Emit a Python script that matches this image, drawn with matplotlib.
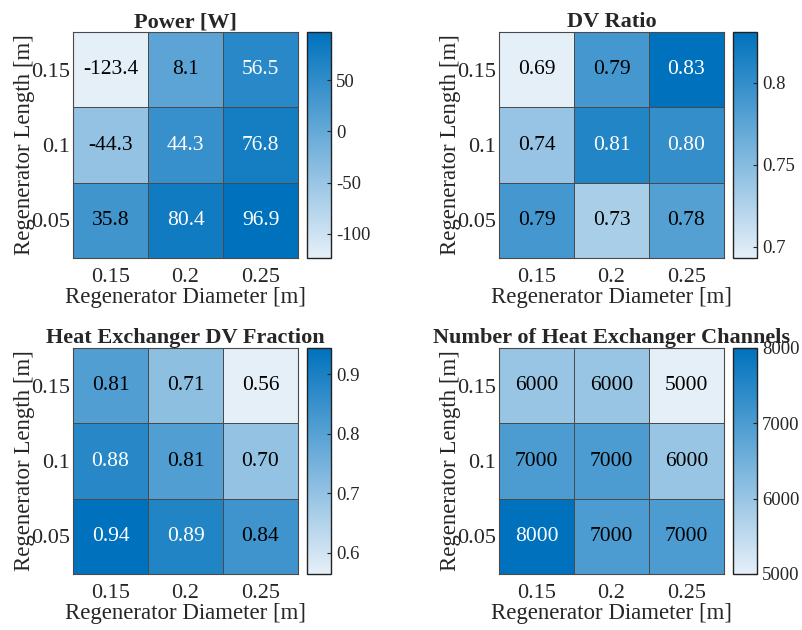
import matplotlib.pyplot as plt
from matplotlib.colors import LinearSegmentedColormap
import numpy as np

plt.rcParams['font.family'] = ['Liberation Serif', 'DejaVu Serif']

diam = ['0.15', '0.2', '0.25']
length = ['0.15', '0.1', '0.05']  # rows, top to bottom

power = [[-123.4, 8.1, 56.5],
         [-44.3, 44.3, 76.8],
         [35.8, 80.4, 96.9]]
dv_ratio = [[0.693, 0.79, 0.831],
            [0.74, 0.81, 0.80],
            [0.79, 0.73, 0.78]]
hx_frac = [[0.81, 0.71, 0.564],
           [0.88, 0.81, 0.70],
           [0.944, 0.89, 0.84]]
channels = [[6000, 6000, 5000],
            [7000, 7000, 6000],
            [8000, 7000, 7000]]

titles = ['Power [W]', 'DV Ratio', 'Heat Exchanger DV Fraction',
          'Number of Heat Exchanger Channels']
fmts = ['%.1f', '%.2f', '%.2f', '%d']
cb_ticks = [[-100, -50, 0, 50], [0.7, 0.75, 0.8], [0.6, 0.7, 0.8, 0.9],
            [5000, 6000, 7000, 8000]]
cb_labels = [['-100', '-50', '0', '50'], ['0.7', '0.75', '0.8'],
             ['0.6', '0.7', '0.8', '0.9'], ['5000', '6000', '7000', '8000']]

cmap = LinearSegmentedColormap.from_list('mblue', [(229/255, 239/255, 248/255),
                                                   (0, 114/255, 189/255)])
txt = '#262626'
edge = '#4a4a4a'

fig = plt.figure(figsize=(8.03, 6.3), dpi=100)

# positions in pixels: heatmap left, colorbar left, bottom
lefts = [73, 499, 73, 499]
cblefts = [307, 733, 307, 733]
bottoms = [630 - 258, 630 - 258, 630 - 574, 630 - 574]
W, H, CW = 225, 226, 24

for k, data in enumerate([power, dv_ratio, hx_frac, channels]):
    z = np.array(data, dtype=float)
    ax = fig.add_axes([lefts[k] / 803, bottoms[k] / 630, W / 803, H / 630])
    vmin, vmax = z.min(), z.max()
    m = ax.pcolormesh(np.arange(4), np.arange(4), z, cmap=cmap, vmin=vmin, vmax=vmax,
                      edgecolors=edge, linewidth=0.7)
    ax.set_xlim(0, 3)
    ax.set_ylim(3, 0)
    for i in range(3):
        for j in range(3):
            frac = (z[i, j] - vmin) / (vmax - vmin)
            c = 'white' if frac > 0.73 else 'black'
            ax.text(j + 0.5, i + 0.5, fmts[k] % z[i, j], ha='center', va='center',
                    fontsize=15.5, color=c)
    ax.set_xticks(np.arange(3) + 0.5)
    ax.set_xticklabels(diam)
    ax.set_yticks(np.arange(3) + 0.5)
    ax.set_yticklabels(length)
    ax.tick_params(axis='x', length=0, labelsize=16, colors=txt, pad=7)
    ax.tick_params(axis='y', length=0, labelsize=16, colors=txt, pad=2)
    ax.set_xlabel('Regenerator Diameter [m]', fontsize=16.5, color=txt, labelpad=0)
    ax.set_ylabel('Regenerator Length [m]', fontsize=16.5, color=txt, labelpad=-3)
    ax.set_title(titles[k], fontsize=16, fontweight='bold', color=txt, pad=3)
    for s in ax.spines.values():
        s.set_color(edge)
        s.set_linewidth(0.8)

    cax = fig.add_axes([cblefts[k] / 803, bottoms[k] / 630, CW / 803, H / 630])
    cb = fig.colorbar(m, cax=cax)
    cb.set_ticks(cb_ticks[k])
    cb.set_ticklabels(cb_labels[k])
    cb.ax.tick_params(direction='in', length=3, labelsize=13.5, colors=txt, width=0.8)
    cb.outline.set_edgecolor('#222222')
    cb.outline.set_linewidth(1.0)

plt.savefig('out.png', dpi=100)
